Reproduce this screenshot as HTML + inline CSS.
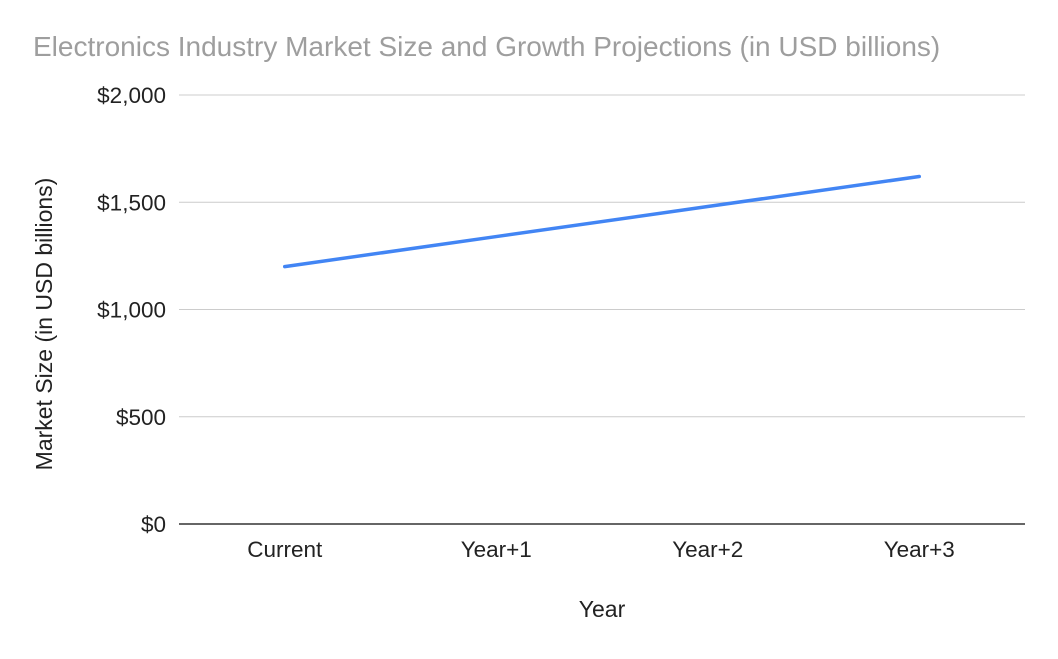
<!DOCTYPE html>
<html><head><meta charset="utf-8"><style>
body{margin:0;background:#fff;font-family:"Liberation Sans",Arial,sans-serif;}
svg text{font-family:"Liberation Sans",Arial,sans-serif;}
</style></head><body>
<svg id="chart" width="1058" height="654">
<rect width="1058" height="654" fill="#fff"/>
<text x="33" y="56" font-size="28" fill="#9e9e9e">Electronics Industry Market Size and Growth Projections (in USD billions)</text>
<g id="grid"></g>
<g id="yt"></g>
<g id="xt"></g>
<text x="602" y="617" font-size="23" text-anchor="middle" fill="#222">Year</text>
<text transform="translate(52,324) rotate(-90)" font-size="23" text-anchor="middle" fill="#222">Market Size (in USD billions)</text>
<g id="series"></g>
</svg>
<script>
const categories=["Current","Year+1","Year+2","Year+3"];
const values=[1200,1340,1480,1620];
const yTicks=[0,500,1000,1500,2000];
const yTickLabels=["$0","$500","$1,000","$1,500","$2,000"];
const NS="http://www.w3.org/2000/svg";
const L=179,R=1025,T=95,B=524,yMax=2000;
const y=v=>B-(v/yMax)*(B-T);
const bw=(R-L)/categories.length;
const x=i=>L+bw*(i+0.5);
function mk(t,a,p){const e=document.createElementNS(NS,t);for(const k in a)e.setAttribute(k,a[k]);p.appendChild(e);return e;}
const grid=document.getElementById('grid'),yt=document.getElementById('yt'),xt=document.getElementById('xt'),ser=document.getElementById('series');
yTicks.forEach((v,i)=>{
 const ln=mk('line',{x1:L,x2:R,y1:y(v),y2:y(v),stroke:v===0?'#333':'#ccc','stroke-width':v===0?1.5:1},grid);
 
 
 const t=mk('text',{x:166,y:y(v)+8,'font-size':22.5,'text-anchor':'end',fill:'#222'},yt);
 t.textContent=yTickLabels[i];
 
 
});
categories.forEach((c,i)=>{
 const t=mk('text',{x:x(i),y:557,'font-size':22.5,'text-anchor':'middle',fill:'#222'},xt);
 t.textContent=c;
 
 
});
const pl=mk('polyline',{points:values.map((v,i)=>x(i)+','+y(v)).join(' '),fill:'none',stroke:'#4285f4','stroke-width':3.5,'stroke-linejoin':'round','stroke-linecap':'round'},ser);


</script>
</body></html>
